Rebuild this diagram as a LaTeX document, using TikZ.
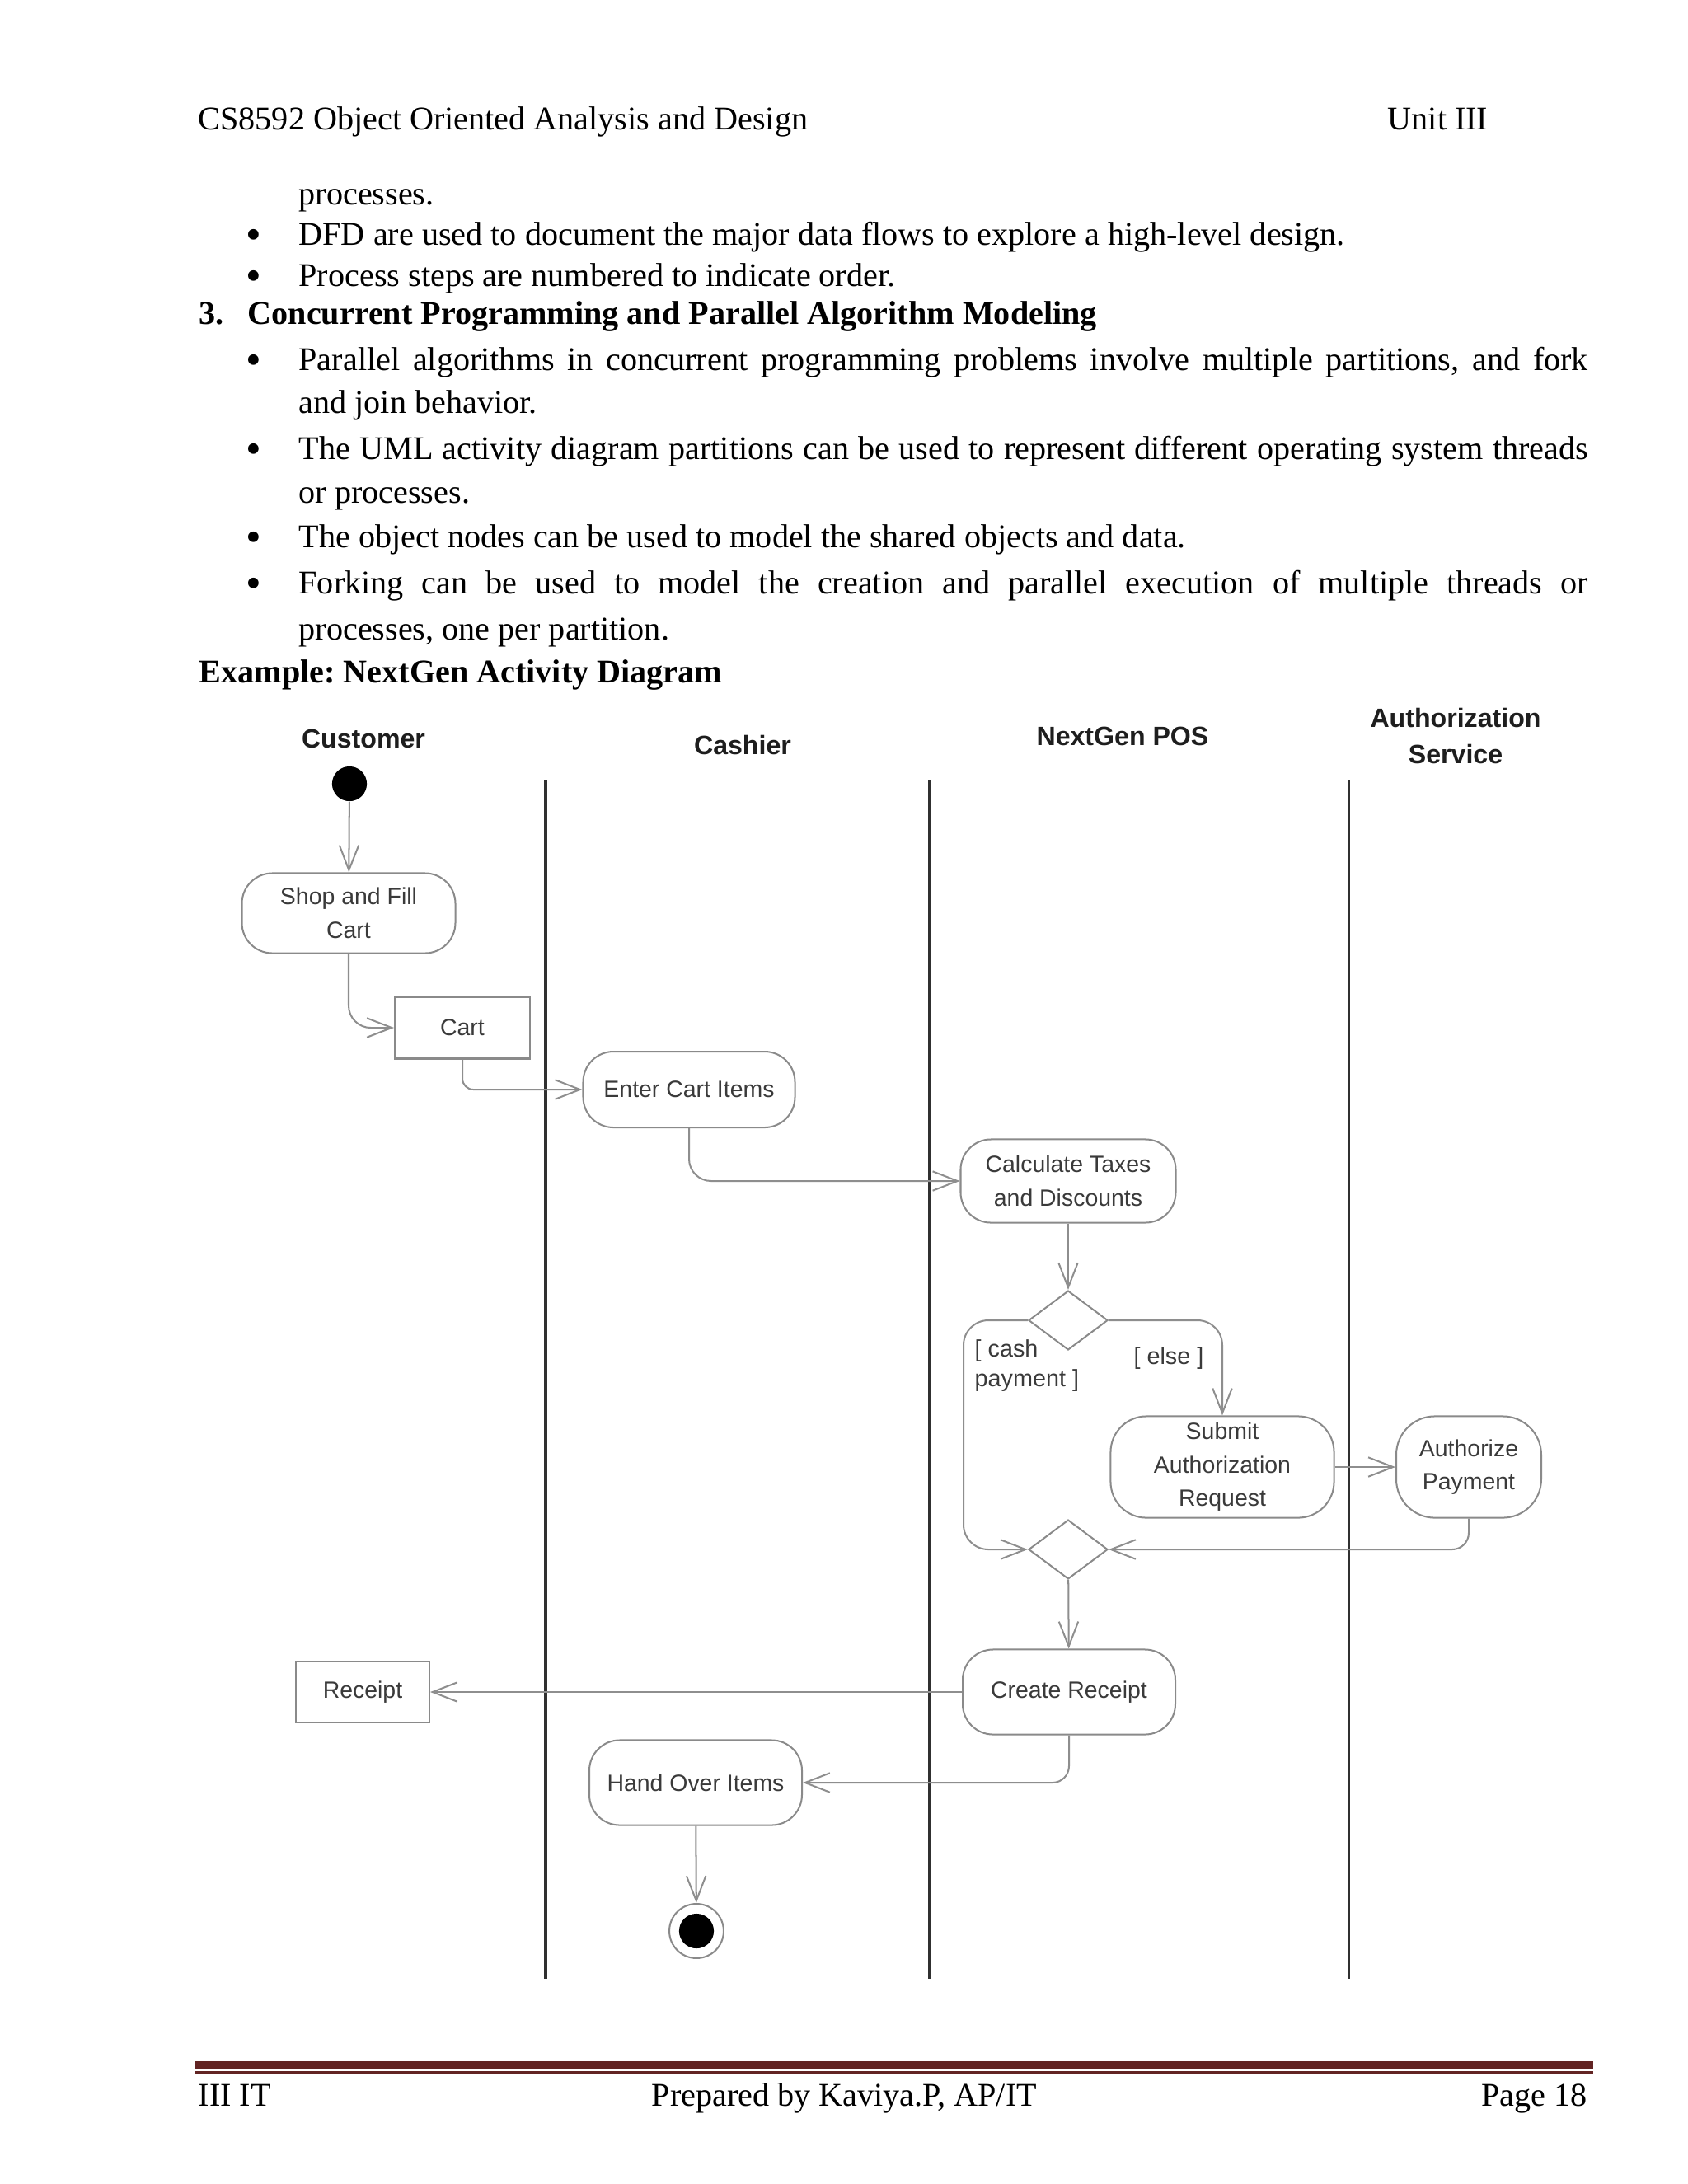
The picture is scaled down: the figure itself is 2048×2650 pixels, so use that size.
\documentclass[tikz,border=0pt]{standalone}
\usepackage{fontspec}
\setmainfont{Liberation Serif}
\newfontfamily\diagfont{Liberation Sans}
\usetikzlibrary{arrows.meta,shapes.geometric}
\frenchspacing
\definecolor{lanecol}{HTML}{303030}
\definecolor{nodegray}{HTML}{8A8A8A}
\definecolor{linegray}{HTML}{8E8E8E}
\definecolor{txtgray}{HTML}{3A3A3A}
\definecolor{hdrcol}{HTML}{1E1E1E}
\definecolor{maroon}{HTML}{622423}
\newcommand{\bigbul}{\smash{\raisebox{-1.6pt}{\fontsize{16}{16}\selectfont\textbullet}}}
\begin{document}
\begin{tikzpicture}[x=0.298828pt, y=-0.298828pt,
  bodytext/.style={anchor=base west, inner sep=0pt, font=\fontsize{12}{14}\selectfont},
  bul/.style={anchor=base, inner sep=0pt, font=\fontsize{12}{14}\selectfont},
  lanehdr/.style={inner sep=0pt, align=center, text=hdrcol, font=\diagfont\bfseries\fontsize{9.6}{13.4}\selectfont},
  act/.style={draw=nodegray, line width=0.6pt, rounded corners=11pt, align=center, text=txtgray, inner sep=0pt, font=\diagfont\fontsize{8.5}{12.1}\selectfont},
  objbox/.style={draw=nodegray, line width=0.6pt, align=center, text=txtgray, inner sep=0pt, font=\diagfont\fontsize{8.5}{12.1}\selectfont},
  decis/.style={draw=nodegray, line width=0.6pt, diamond, inner sep=0pt, minimum width=28.7pt, minimum height=21.5pt},
  guard/.style={inner sep=0pt, align=left, text=txtgray, font=\diagfont\fontsize{8.6}{11}\selectfont},
  lane/.style={draw=lanecol, line width=0.9pt},
  flow/.style={draw=linegray, line width=0.6pt, -{Straight Barb[length=9pt,width=7pt]}},
  footbar/.style={fill=maroon, draw=none}
]
\fill[white] (0,0) rectangle (2048,2650);
\useasboundingbox (0,0) rectangle (2048,2650);

% header
\node[bodytext] (hl) at (240,157) {CS8592 Object Oriented Analysis and Design};
\node[bodytext, anchor=base east] (hr) at (1806,157) {Unit III};

% body text
\node[bodytext] (t1) at (362,248) {processes.};
\node[bul] (b2) at (308,297) {\bigbul};
\node[bodytext] (t2) at (362,297) {DFD are used to document the major data flows to explore a high-level design.};
\node[bul] (b3) at (308,347) {\bigbul};
\node[bodytext] (t3) at (362,347) {Process steps are numbered to indicate order.};
\node[bodytext, font=\fontsize{12}{14}\selectfont\bfseries] (n3) at (241,393) {3.};
\node[bodytext, font=\fontsize{12}{14}\selectfont\bfseries] (t4) at (300,393) {Concurrent Programming and Parallel Algorithm Modeling};
\node[bul] (b5) at (308,449) {\bigbul};
\node[bodytext] (t5) at (362,449) {\makebox[467.4pt][s]{Parallel algorithms in concurrent programming problems involve multiple partitions, and fork}};
\node[bodytext] (t6) at (362,501) {and join behavior.};
\node[bul] (b7) at (308,557) {\bigbul};
\node[bodytext] (t7) at (362,557) {\makebox[467.4pt][s]{The UML activity diagram partitions can be used to represent different operating system threads}};
\node[bodytext] (t8) at (362,610) {or processes.};
\node[bul] (b9) at (308,664) {\bigbul};
\node[bodytext] (t9) at (362,664) {The object nodes can be used to model the shared objects and data.};
\node[bul] (b10) at (308,720) {\bigbul};
\node[bodytext] (t10) at (362,720) {\makebox[467.4pt][s]{Forking can be used to model the creation and parallel execution of multiple threads or}};
\node[bodytext] (t11) at (362,776) {processes, one per partition.};
\node[bodytext, font=\fontsize{12}{14}\selectfont\bfseries] (t12) at (241,828) {Example: NextGen Activity Diagram};

% swimlanes
\draw[lane] (662,946) -- (662,2401);
\draw[lane] (1127,946) -- (1127,2401);
\draw[lane] (1636,946) -- (1636,2401);

% lane headers
\node[lanehdr] (hcust) at (441,896) {Customer};
\node[lanehdr] (hcash) at (901,904) {Cashier};
\node[lanehdr] (hpos) at (1362,893) {NextGen POS};
\node[lanehdr] (hauth) at (1766,893) {Authorization\\Service};

% nodes
\node[circle, fill=black, inner sep=0pt, minimum size=12.6pt] (init) at (424,951) {};
\node[act, minimum width=77.4pt, minimum height=29pt] (shop) at (423,1108) {Shop and Fill\\Cart};
\node[objbox, minimum width=49pt, minimum height=22.4pt] (cart) at (561,1247) {Cart};
\node[act, minimum width=76.8pt, minimum height=27.5pt] (enter) at (836,1322) {Enter Cart Items};
\node[act, minimum width=78pt, minimum height=30.2pt] (calc) at (1296,1433) {Calculate Taxes\\and Discounts};
\node[decis] (dec) at (1296,1602) {};
\node[act, rounded corners=13pt, minimum width=81pt, minimum height=36.8pt] (submit) at (1483,1780) {Submit\\Authorization\\Request};
\node[act, rounded corners=14pt, minimum width=52.6pt, minimum height=36.8pt] (authp) at (1782,1780) {Authorize\\Payment};
\node[decis] (merge) at (1296,1880) {};
\node[act, minimum width=77.1pt, minimum height=30.8pt] (create) at (1297,2053) {Create Receipt};
\node[objbox, minimum width=48.4pt, minimum height=22.1pt] (receipt) at (440,2053) {Receipt};
\node[act, minimum width=77.1pt, minimum height=30.8pt] (hand) at (844,2163) {Hand Over Items};
\node[circle, draw=nodegray, line width=0.6pt, fill=white, inner sep=0pt, minimum size=19.7pt] (final) at (845,2343) {};
\node[circle, fill=black, inner sep=0pt, minimum size=12.6pt] (finalin) at (final.center) {};

% guards
\node[guard, anchor=west] (gcash) at (1182,1657) {[ cash\\payment ]};
\node[guard] (gelse) at (1418,1648) {[ else ]};

% connectors
\coordinate (cashc) at (1169,1880);
\draw[flow] (init) -- (shop);
\draw[flow, rounded corners=8pt] (shop.south) |- (cart.west);
\draw[flow, rounded corners=4pt] (cart.south) |- (enter.west);
\draw[flow, rounded corners=8pt] (enter.south) |- (calc.west);
\draw[flow] (calc) -- (dec);
\draw[flow, rounded corners=9pt] (dec.west) -| (cashc) -- (merge.west);
\draw[flow, rounded corners=9pt] (dec.east) -| (submit.north);
\draw[flow] (submit) -- (authp);
\draw[flow, rounded corners=6pt] (authp.south) |- (merge.east);
\draw[flow] (merge) -- (create);
\draw[flow] (create) -- (receipt);
\draw[flow, rounded corners=6pt] (create.south) |- (hand.east);
\draw[flow] (hand) -- (final);

% footer
\fill[footbar] (236,2501) rectangle (1933,2511);
\fill[footbar] (236,2513) rectangle (1933,2516);
\node[bodytext] (f1) at (240,2555) {III IT};
\node[bodytext] (f2) at (790,2555) {Prepared by Kaviya.P, AP/IT};
\node[bodytext, anchor=base east] (f3) at (1926,2555) {Page 18};
\end{tikzpicture}
\end{document}
